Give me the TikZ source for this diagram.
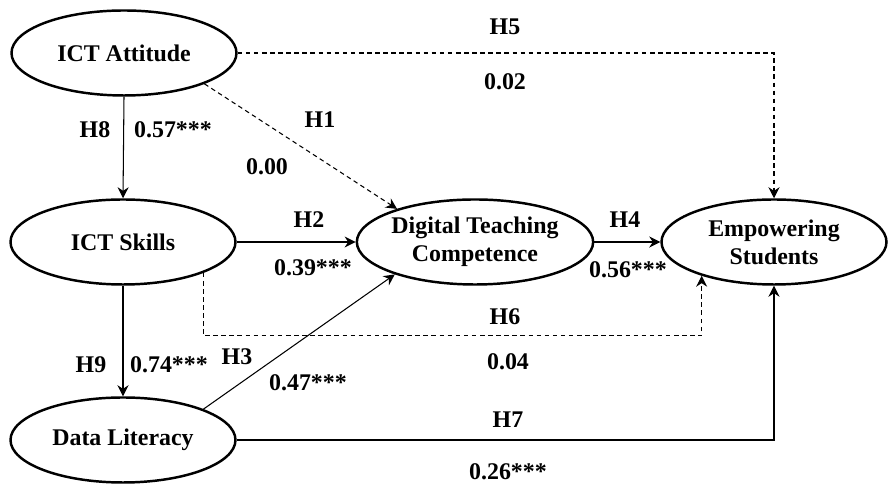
\documentclass[tikz,border=0pt]{standalone}
\usepackage{fontspec}
\setmainfont{Liberation Serif}
\usetikzlibrary{arrows.meta,shapes.geometric}

\begin{document}
\begin{tikzpicture}[
        construct/.style={ellipse,draw,line width=1.4pt,minimum width=4.5cm,minimum height=1.7cm,inner sep=0pt,align=center,font=\fontsize{13.6}{16}\selectfont\bfseries},
        lbl/.style={font=\fontsize{13.6}{16}\selectfont\bfseries},
        path/.style={-{Stealth[length=2.2mm,width=2.2mm]},line width=0.6pt},
        nspath/.style={path,dash pattern=on 2.6pt off 2pt}]
        \useasboundingbox (0,0) rectangle (17.78,9.74);
        \node [construct] (ia) at (2.48,8.68) {ICT Attitude};
        \node [construct] (is) at (2.46,4.90) {ICT Skills};
        \node [construct] (dl) at (2.46,0.94) {Data Literacy};
        \node [construct] (dtc) at (9.50,4.90) {Digital Teaching\\Competence};
        \node [construct] (es) at (15.48,4.90) {Empowering\\Students};
        \node [lbl] (h1) at (6.40,7.34) {H1};
        \node [lbl] (b1) at (5.34,6.40) {0.00};
        \node [lbl] (h2) at (6.18,5.34) {H2};
        \node [lbl] (b2) at (6.26,4.38) {0.39***};
        \node [lbl] (h3) at (4.74,2.60) {H3};
        \node [lbl] (b3) at (6.16,2.08) {0.47***};
        \node [lbl] (h4) at (12.50,5.34) {H4};
        \node [lbl] (b4) at (12.56,4.34) {0.56***};
        \node [lbl] (h5) at (10.10,9.20) {H5};
        \node [lbl] (b5) at (10.10,8.10) {0.02};
        \node [lbl] (h6) at (10.10,3.40) {H6};
        \node [lbl] (b6) at (10.16,2.50) {0.04};
        \node [lbl] (h7) at (10.16,1.34) {H7};
        \node [lbl] (b7) at (10.16,0.30) {0.26***};
        \node [lbl] (h8) at (1.90,7.14) {H8};
        \node [lbl] (b8) at (3.46,7.14) {0.57***};
        \node [lbl] (h9) at (1.82,2.44) {H9};
        \node [lbl] (b9) at (3.38,2.44) {0.74***};
        \draw[nspath] (ia.-21) -- (dtc.157);
        \draw[path] (is.east) -- (dtc.west);
        \draw[path] (dl.21) -- (dtc.202);
        \draw[path] (dtc.east) -- (es.west);
        \draw[nspath] (ia.east) -| (es.north);
        \draw[nspath] (is.339) -- ++(0,-1.26) -| (es.205);
        \draw[path] (dl.east) -| (es.south);
        \draw[path] (ia.south) -- (is.north);
        \draw[path] (is.south) -- (dl.north);
      \end{tikzpicture}
\end{document}
